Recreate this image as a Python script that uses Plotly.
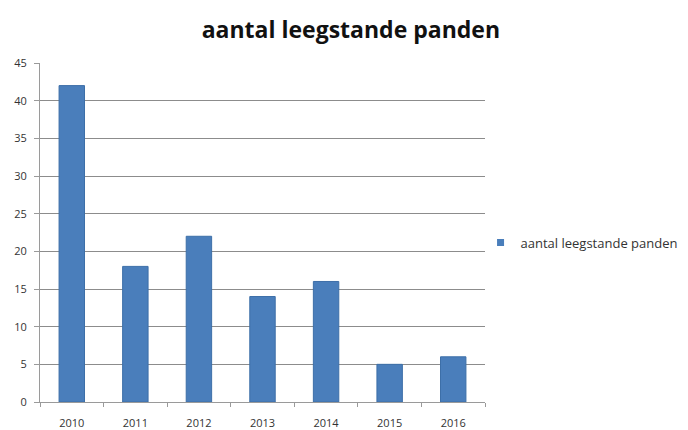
import plotly.graph_objects as go

years = ["2010", "2011", "2012", "2013", "2014", "2015", "2016"]
values = [42, 18, 22, 14, 16, 5, 6]
series_name = "aantal leegstande panden"
title_text = "aantal leegstande panden"
bar_color = "#4a7ebb"

fig = go.Figure()
fig.add_trace(go.Bar(
    x=years, y=values, name=series_name,
    marker=dict(color=bar_color, line=dict(color="#3d6fa8", width=1)),
    showlegend=False,
))
# legend entry with a small square symbol, as in the reference
fig.add_trace(go.Scatter(
    x=[None], y=[None], mode="markers", name=series_name,
    marker=dict(symbol="square", size=7, color=bar_color),
    showlegend=True,
))

fig.update_layout(
    width=688, height=430,
    margin=dict(l=40, r=203, t=63, b=28, autoexpand=False),
    paper_bgcolor="white", plot_bgcolor="white",
    title=dict(text="<b>" + title_text + "</b>", x=0.51, xanchor="center", y=0.93, yanchor="middle",
               font=dict(family="Open Sans", size=23, color="#111111")),
    bargap=0.6,
    font=dict(family="Open Sans", size=11, color="#333333"),
    showlegend=True,
    legend=dict(x=0.99, y=0.47, xanchor="left", yanchor="middle",
                font=dict(size=13, color="#333333"), itemwidth=30,
                bgcolor="rgba(0,0,0,0)"),
    xaxis=dict(showline=True, linecolor="#9a9a9a", linewidth=1, ticks="outside",
               ticklen=4, tickcolor="#9a9a9a", tickson="boundaries",
               ticklabelstandoff=11, automargin=False,
               tickfont=dict(size=11, color="#333333")),
    yaxis=dict(range=[0, 45], dtick=5, showline=True, linecolor="#9a9a9a", linewidth=1,
               ticks="outside", ticklen=5, tickcolor="#9a9a9a",
               showgrid=True, gridcolor="#8c8c8c", gridwidth=1, zeroline=False,
               ticklabelstandoff=5, automargin=False,
               tickfont=dict(size=11, color="#333333")),
)

fig.write_html("out.html", config={"displayModeBar": False},
               post_script="document.body.style.margin='0';")
